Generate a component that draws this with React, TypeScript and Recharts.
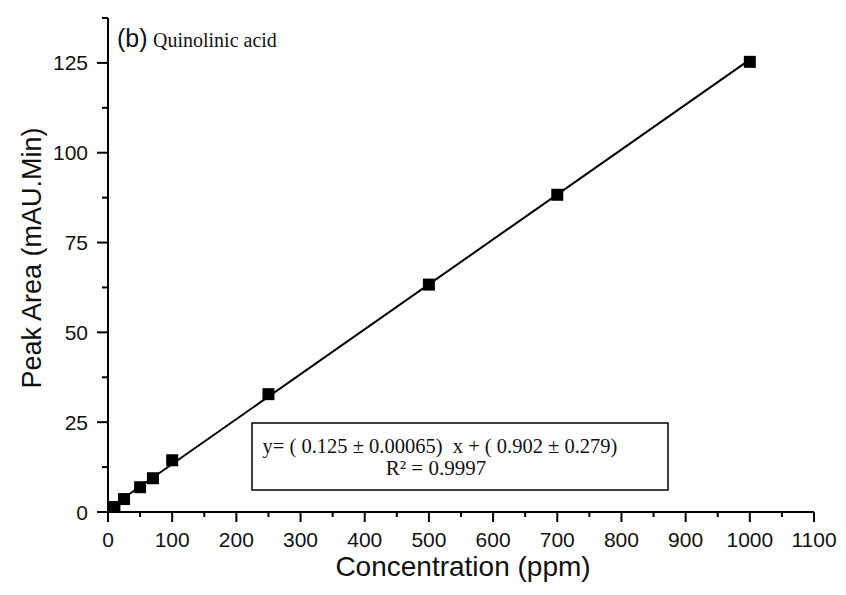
import React from "react";
import { ScatterChart, Scatter, XAxis, YAxis } from "recharts";

const concentration = [10, 25, 50, 70, 100, 250, 500, 700, 1000];
const peakArea = [1.4, 3.6, 6.9, 9.4, 14.4, 32.8, 63.3, 88.3, 125.3];

// straight fit line, ends
const fitX = [10, 1000];
const fitY = [2.1, 125.9];

const xTicks = [0, 50, 100, 150, 200, 250, 300, 350, 400, 450, 500, 550, 600, 650, 700, 750, 800, 850, 900, 950, 1000, 1050, 1100];
const xLabels = ["0", "100", "200", "300", "400", "500", "600", "700", "800", "900", "1000", "1100"];
const yTicks = [0, 12.5, 25, 37.5, 50, 62.5, 75, 87.5, 100, 112.5, 125, 137.5];
const yLabels = ["0", "25", "50", "75", "100", "125"];

const points = concentration.map((x, i) => ({ x, y: peakArea[i] }));
const fitLine = fitX.map((x, i) => ({ x, y: fitY[i] }));

const SANS = "'Liberation Sans', Arial, sans-serif";
const SERIF = "'Liberation Serif', 'Times New Roman', serif";

const XTick = (props: any) => {
  const { x, y, payload } = props;
  const label = String(payload.value);
  const major = xLabels.includes(label);
  return (
    <g>
      <line x1={x} x2={x} y1={y} y2={y + (major ? 10 : 5)} stroke="#000" strokeWidth={2} />
      {major && (
        <text x={x} y={y + 35} textAnchor="middle" fontFamily={SANS} fontSize={21} fill="#111">
          {label}
        </text>
      )}
    </g>
  );
};

const YTick = (props: any) => {
  const { x, y, payload } = props;
  const label = String(payload.value);
  const major = yLabels.includes(label);
  return (
    <g>
      <line x1={x} x2={x - (major ? 11 : 6)} y1={y} y2={y} stroke="#000" strokeWidth={2} />
      {major && (
        <text x={x - 20} y={y + 7.5} textAnchor="end" fontFamily={SANS} fontSize={21} fill="#111">
          {label}
        </text>
      )}
    </g>
  );
};

const Square = (props: any) => (
  <rect x={props.cx - 6} y={props.cy - 6} width={12} height={12} fill="#000" />
);

export default function App() {
  return (
    <div style={{ position: "absolute", left: 0, top: 0, width: 846, height: 595, background: "#fff" }}>
      <ScatterChart width={846} height={595} margin={{ top: 18, right: 32, left: 0, bottom: 0 }}>
        <XAxis
          type="number"
          dataKey="x"
          domain={[0, 1100]}
          ticks={xTicks}
          interval={0}
          height={83}
          tickSize={0}
          tickMargin={0}
          tickLine={false}
          tick={<XTick />}
          axisLine={{ stroke: "#000", strokeWidth: 2 }}
          label={(p: any) => (
            <text x={463} y={576} textAnchor="middle" fontFamily={SANS} fontSize={28} fill="#111">
              Concentration (ppm)
            </text>
          )}
        />
        <YAxis
          type="number"
          dataKey="y"
          domain={[0, 137.5]}
          ticks={yTicks}
          interval={0}
          width={108}
          tickSize={0}
          tickMargin={0}
          tickLine={false}
          tick={<YTick />}
          axisLine={{ stroke: "#000", strokeWidth: 2 }}
          label={(p: any) => (
            <text
              x={41}
              y={258}
              transform="rotate(-90 41 258)"
              textAnchor="middle"
              fontFamily={SANS}
              fontSize={27}
              fill="#111"
            >
              Peak Area (mAU.Min)
            </text>
          )}
        />
        <Scatter
          data={fitLine}
          line={{ stroke: "#000", strokeWidth: 2 }}
          shape={() => <g />}
          isAnimationActive={false}
        />
        <Scatter data={points} shape={<Square />} isAnimationActive={false} />
      </ScatterChart>
      <svg
        width={846}
        height={595}
        style={{ position: "absolute", left: 0, top: 0, pointerEvents: "none" }}
      >
        <text x={117} y={47} fontFamily={SANS} fontSize={25} fill="#111">
          (b)
        </text>
        <text x={153} y={47} fontFamily={SERIF} fontSize={20} fill="#111">
          Quinolinic acid
        </text>
        <rect x={252} y={423} width={416} height={67} fill="#fff" stroke="#000" strokeWidth={1.5} />
        <text x={440} y={453} textAnchor="middle" fontFamily={SERIF} fontSize={20.5} fill="#111" xmlSpace="preserve">
          y= ( 0.125 ± 0.00065)  x + ( 0.902 ± 0.279)
        </text>
        <text x={436} y={475} textAnchor="middle" fontFamily={SERIF} fontSize={21} fill="#111">
          R² = 0.9997
        </text>
      </svg>
    </div>
  );
}
